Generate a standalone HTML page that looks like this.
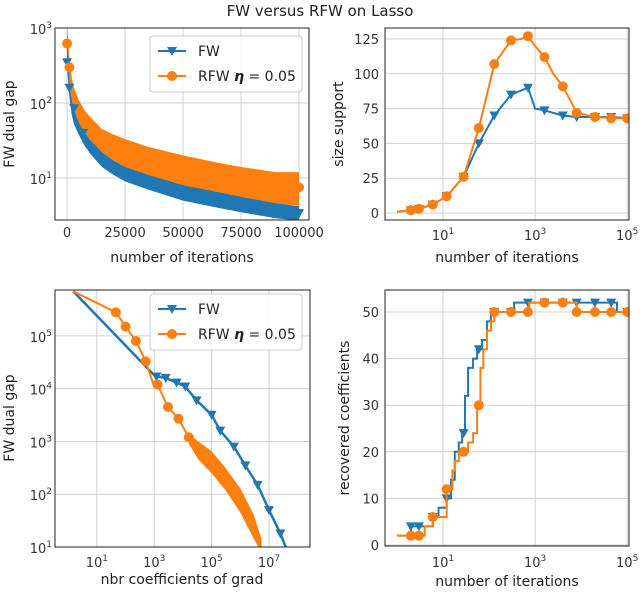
<!DOCTYPE html>
<html><head><meta charset="utf-8"><style>
body{margin:0;background:#fff;}
svg{display:block;font-family:"DejaVu Sans","Liberation Sans",sans-serif;}
.tk{font-size:13px;fill:#333}
.lb{font-size:14px;fill:#222}
</style></head><body>
<svg id="c" width="640" height="593" viewBox="0 0 640 593">
<text x="320" y="16" text-anchor="middle" style="font-size:15px" fill="#222">FW versus RFW on Lasso</text>
</svg>
<script>
// ---- Panel 1 data (iterations vs dual gap) ----
const p1X=[0,1000,2000,3000,5000,7500,10000,15000,20000,25000,35000,50000,65000,75000,90000,100000];
const p1FWlo=[300,120,70,52,38,27,21,14,11,9,7,5,4,3.5,2.9,2.7];
const p1FWhi=[900,200,110,80,55,40,32,22,17,14,11,8,6.5,5.6,4.6,4.2];
const p1RFWlo=[500,200,110,70,45,32,24,16,13,11,9,7,5.8,5,4.5,4.3];
const p1RFWhi=[1100,400,220,160,110,80,65,45,38,33,26,20,16,14,12,12];
const p1FWmkX=[0,1000,3000,7000,100000];
const p1FWmkY=[350,160,85,40,3.4];
const p1RFWmkX=[0,1000,100000];
const p1RFWmkY=[620,300,7.5];
const p1YTicks=[1,2,3];
const p1XTicks=[0,25000,50000,75000,100000];
// ---- Panel 2 data (size support) ----
const p2FWx=[1,2,3,6,12,28,60,130,300,700,1000,1500,4000,8000,20000,50000,100000];
const p2FWy=[1,2,3,6,12,26,50,70,85,90,75,74,70,69,69,69,68];
const p2RFWx=[1,2,3,6,12,28,60,130,300,500,700,1000,1600,2500,4000,5000,8000,20000,50000,100000];
const p2RFWy=[1,2,3,6,12,26,61,107,124,125,127,120,112,100,91,85,72,69,68,68];
const p2FWmk=[2,3,6,12,28,60,130,300,700,1600,4000,8000,20000,45000,100000];
const p2RFWmk=[2,3,6,12,28,60,130,300,700,1600,4000,8000,20000,45000,100000];
const p2YTicks=[0,25,50,75,100,125];
// ---- Panel 3 data (nbr coefficients vs gap) ----
const p3FWx=[1.5,1000,1200,2500,6000,12000,30000,100000,200000,600000,1500000,4000000,10000000,25000000,45000000];
const p3FWy=[700000,18000,17000,16000,13000,11000,6000,3200,1600,800,350,150,50,18,8];
const p3FWmk=[1200,2500,6000,12000,30000,100000,200000,600000,1500000,4000000,10000000,25000000];
const p3RFWx=[1.5,46,100,230,500,1000,1300,3000,7000,16000,35000,100000,300000,1000000,3000000,5000000];
const p3RFWy=[700000,280000,150000,80000,33000,11000,12000,4500,2700,1200,700,400,200,80,25,10];
const p3RFWmk=[46,100,230,500,1300,3000,7000,16000,35000];
const p3RFWbandX=[16000,35000,100000,300000,1000000,3000000,5500000];
const p3RFWbandLo=[900,450,250,120,45,14,8];
const p3RFWbandHi=[1400,1000,650,320,130,40,14];
// ---- Panel 4 data (recovered coefficients, step) ----
const p4FWx=[1,2,4,6,8,12,15,18,22,26,30,35,45,55,70,90,110,350,60000,100000];
const p4FWy=[2,4,4,6,8,10,14,20,22,24,32,38,40,42,44,48,50,52,50,50];
const p4RFWx=[1,4,6,9,12,16,18,22,35,45,55,65,75,90,110,130,750,8000,100000];
const p4RFWy=[2,4,6,6,12,16,18,20,22,24,30,38,42,46,48,50,52,50,50];
const p4mkX=[2,3,6,12,28,60,130,300,700,1600,4000,8000,20000,45000,100000];
const p4YTicks=[0,10,20,30,40,50];

const BLUE='#1f77b4',ORANGE='#ff7f0e',NS='http://www.w3.org/2000/svg';
const svg=document.getElementById('c');
function el(t,a,p){const e=document.createElementNS(NS,t);for(const k in a)e.setAttribute(k,a[k]);(p||svg).appendChild(e);return e;}
function lin(d0,d1,r0,r1){return v=>r0+(v-d0)/(d1-d0)*(r1-r0);}
function lg(d0,d1,r0,r1){return v=>r0+(Math.log10(v)-d0)/(d1-d0)*(r1-r0);}
function interp(xs,ys,x,logx,logy){for(let i=0;i<xs.length-1;i++){if(x>=xs[i]&&x<=xs[i+1]){let a=logx?Math.log10(xs[i]):xs[i],b=logx?Math.log10(xs[i+1]):xs[i+1],xx=logx?Math.log10(x):x;let t=(xx-a)/(b-a||1);if(logy)return Math.pow(10,Math.log10(ys[i])+t*(Math.log10(ys[i+1])-Math.log10(ys[i])));return ys[i]+t*(ys[i+1]-ys[i]);}}return ys[ys.length-1];}
function frame(x0,y0,x1,y1,name){const r=el('rect',{x:x0,y:y0,width:x1-x0,height:y1-y0,fill:'none',stroke:'#222','stroke-width':1});}
function grid(g,x0,y0,x1,y1,vert,pos){const l=el('line',vert?{x1:pos,x2:pos,y1:y0,y2:y1}:{x1:x0,x2:x1,y1:pos,y2:pos},g);l.setAttribute('stroke','#d0d0d0');l.setAttribute('stroke-width','1');}
function tri(g,x,y,c){const p=el('path',{d:`M${x-5},${y-4}L${x+5},${y-4}L${x},${y+5}Z`,fill:c},g);}
function dot(g,x,y,c){const p=el('circle',{cx:x,cy:y,r:5,fill:c},g);}
function pow(g,x,y,e,anchor){const t=el('text',{x:x,y:y,'text-anchor':anchor,class:'tk'},g);t.textContent='10';const s=el('tspan',{dy:-6,'font-size':'9'},t);s.textContent=e;}
function ytitle(x,y,txt,name){const t=el('text',{x:x,y:y,transform:`rotate(-90 ${x} ${y})`,'text-anchor':'middle',class:'lb'});t.textContent=txt;}
function xtitle(x,y,txt,name){const t=el('text',{x:x,y:y,'text-anchor':'middle',class:'lb'});t.textContent=txt;}
function legend(x,y){const g=el('g',{});
 el('rect',{x:x,y:y,width:152,height:56,rx:3,fill:'#fff',stroke:'#ccc','fill-opacity':0.85},g);
 el('line',{x1:x+8,x2:x+36,y1:y+15,y2:y+15,stroke:BLUE,'stroke-width':2},g);tri(g,x+22,y+15,BLUE);
 let t=el('text',{x:x+48,y:y+20,class:'lb'},g);t.textContent='FW';
 el('line',{x1:x+8,x2:x+36,y1:y+40,y2:y+40,stroke:ORANGE,'stroke-width':2},g);dot(g,x+22,y+40,ORANGE);
 t=el('text',{x:x+48,y:y+45,class:'lb'},g);t.textContent='RFW ';
 const s=el('tspan',{'font-weight':'bold','font-style':'italic'},t);s.textContent='η';
 const s2=el('tspan',{},t);s2.textContent=' = 0.05';}
function pathOf(xs,ys,sx,sy){return xs.map((v,i)=>(i?'L':'M')+sx(v).toFixed(1)+','+sy(ys[i]).toFixed(1)).join('');}
function stepOf(xs,ys,sx,sy){let d='';xs.forEach((v,i)=>{if(!i)d+='M'+sx(v)+','+sy(ys[i]);else d+='L'+sx(v)+','+sy(ys[i-1])+'L'+sx(v)+','+sy(ys[i]);});return d;}
function band(g,xs,lo,hi,sx,sy,c,name){const d=pathOf(xs,hi,sx,sy)+xs.slice().reverse().map((v,i)=>'L'+sx(v).toFixed(1)+','+sy(lo[xs.length-1-i]).toFixed(1)).join('')+'Z';const p=el('path',{d:d,fill:c},g);}
function clip(id,x0,y0,x1,y1){const c=el('clipPath',{id:id});el('rect',{x:x0,y:y0,width:x1-x0,height:y1-y0},c);}

// ===== Panel 1 =====
(function(){const X0=55,X1=309,Y0=28,Y1=220;const sx=lin(-5200,104300,X0,X1),sy=lg(0.44,3,Y1,Y0);
clip('c1',X0,Y0,X1,Y1);const g=el('g',{'clip-path':'url(#c1)'});
p1XTicks.forEach(v=>grid(g,X0,Y0,X1,Y1,true,sx(v)));p1YTicks.forEach(e=>grid(g,X0,Y0,X1,Y1,false,sy(Math.pow(10,e))));
band(g,p1X,p1RFWlo,p1RFWhi,sx,sy,ORANGE,'rfw-series');band(g,p1X,p1FWlo,p1FWhi,sx,sy,BLUE,'fw-series');
p1FWmkX.forEach((v,i)=>tri(g,sx(v),sy(p1FWmkY[i]),BLUE));p1RFWmkX.forEach((v,i)=>dot(g,sx(v),sy(p1RFWmkY[i]),ORANGE));
frame(X0,Y0,X1,Y1,'panel1');
p1XTicks.forEach(v=>{const t=el('text',{x:sx(v),y:Y1+17,'text-anchor':'middle',class:'tk'});t.textContent=v;});
p1YTicks.forEach(e=>pow(svg,X0-3,sy(Math.pow(10,e))+6,e,'end'));
ytitle(14,124,'FW dual gap','y-axis-title-gap');xtitle(182,262,'number of iterations','x-axis-title-iterations');
legend(150,36);})();

// ===== Panel 2 =====
(function(){const X0=385,X1=629,Y0=28,Y1=220;const sx=lg(-0.26,5.04,X0,X1),sy=lin(0,125,213,39);
clip('c2',X0,Y0,X1,Y1);const g=el('g',{'clip-path':'url(#c2)'});
[1,3,5].forEach(e=>grid(g,X0,Y0,X1,Y1,true,sx(Math.pow(10,e))));p2YTicks.forEach(v=>grid(g,X0,Y0,X1,Y1,false,sy(v)));
let p=el('path',{d:pathOf(p2FWx,p2FWy,sx,sy),fill:'none',stroke:BLUE,'stroke-width':2},g);
p2FWmk.forEach(v=>tri(g,sx(v),sy(interp(p2FWx,p2FWy,v,true,false)),BLUE));
p=el('path',{d:pathOf(p2RFWx,p2RFWy,sx,sy),fill:'none',stroke:ORANGE,'stroke-width':2},g);
p2RFWmk.forEach(v=>dot(g,sx(v),sy(interp(p2RFWx,p2RFWy,v,true,false)),ORANGE));
frame(X0,Y0,X1,Y1,'panel2');
p2YTicks.forEach(v=>{const t=el('text',{x:X0-6,y:sy(v)+5,'text-anchor':'end',class:'tk'});t.textContent=v;});
[1,3,5].forEach(e=>pow(svg,sx(Math.pow(10,e)),Y1+20,e,'middle'));
ytitle(343,124,'size support','y-axis-title-size-support');xtitle(507,262,'number of iterations','x-axis-title-iterations-2');})();

// ===== Panel 3 =====
(function(){const X0=55,X1=310,Y0=290,Y1=547;const sx=lg(-0.46,8.43,X0,X1),sy=lg(1,5.87,Y1,Y0);
clip('c3',X0,Y0,X1,Y1);const g=el('g',{'clip-path':'url(#c3)'});
[1,3,5,7].forEach(e=>grid(g,X0,Y0,X1,Y1,true,sx(Math.pow(10,e))));[1,2,3,4,5].forEach(e=>grid(g,X0,Y0,X1,Y1,false,sy(Math.pow(10,e))));
band(g,p3RFWbandX,p3RFWbandLo,p3RFWbandHi,sx,sy,ORANGE,'rfw-noise-band');
let p=el('path',{d:pathOf(p3FWx,p3FWy,sx,sy),fill:'none',stroke:BLUE,'stroke-width':2.5},g);
p3FWmk.forEach(v=>tri(g,sx(v),sy(interp(p3FWx,p3FWy,v,true,true)),BLUE));
p=el('path',{d:pathOf(p3RFWx,p3RFWy,sx,sy),fill:'none',stroke:ORANGE,'stroke-width':2},g);
p3RFWmk.forEach(v=>dot(g,sx(v),sy(interp(p3RFWx,p3RFWy,v,true,true)),ORANGE));
frame(X0,Y0,X1,Y1,'panel3');
[1,3,5,7].forEach(e=>pow(svg,sx(Math.pow(10,e)),Y1+20,e,'middle'));
[1,2,3,4,5].forEach(e=>pow(svg,X0-3,sy(Math.pow(10,e))+6,e,'end'));
ytitle(14,418,'FW dual gap','y-axis-title-gap-2');xtitle(182,584,'nbr coefficients of grad','x-axis-title-coefficients');
legend(150,294);})();

// ===== Panel 4 =====
(function(){const X0=385,X1=629,Y0=290,Y1=546;const sx=lg(-0.26,5.04,X0,X1),sy=lin(0,50,545,312);
clip('c4',X0,Y0,X1,Y1);const g=el('g',{'clip-path':'url(#c4)'});
[1,3,5].forEach(e=>grid(g,X0,Y0,X1,Y1,true,sx(Math.pow(10,e))));p4YTicks.forEach(v=>grid(g,X0,Y0,X1,Y1,false,sy(v)));
function stepVal(xs,ys,x){let y=ys[0];xs.forEach((v,i)=>{if(x>=v)y=ys[i];});return y;}
let p=el('path',{d:stepOf(p4FWx,p4FWy,sx,sy),fill:'none',stroke:BLUE,'stroke-width':2},g);
p4mkX.forEach(v=>tri(g,sx(v),sy(stepVal(p4FWx,p4FWy,v)),BLUE));
p=el('path',{d:stepOf(p4RFWx,p4RFWy,sx,sy),fill:'none',stroke:ORANGE,'stroke-width':2},g);
p4mkX.forEach(v=>dot(g,sx(v),sy(stepVal(p4RFWx,p4RFWy,v)),ORANGE));
frame(X0,Y0,X1,Y1,'panel4');
p4YTicks.forEach(v=>{const t=el('text',{x:X0-6,y:sy(v)+5,'text-anchor':'end',class:'tk'});t.textContent=v;});
[1,3,5].forEach(e=>pow(svg,sx(Math.pow(10,e)),Y1+21,e,'middle'));
ytitle(349,418,'recovered coefficients','y-axis-title-recovered');xtitle(507,586,'number of iterations','x-axis-title-iterations-4');})();
</script>
</body></html>
